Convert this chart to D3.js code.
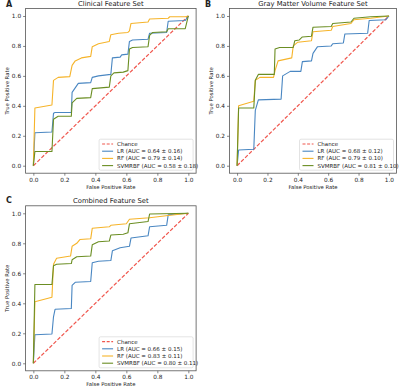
<!DOCTYPE html>
<html>
<head>
<meta charset="utf-8">
<script src="https://cdn.jsdelivr.net/npm/d3@7"></script>
<style>
  body { margin: 0; background: #fff; }
  text { font-family: "DejaVu Sans", sans-serif; fill: #222; }
</style>
</head>
<body>
<svg width="400" height="387"></svg>
<script>
// Mean ROC curves, [fpr, tpr]
const clinicalLR = [[0,0],[0.01,0.22],[0.12,0.225],[0.13,0.35],[0.14,0.355],[0.245,0.355],[0.25,0.49],[0.27,0.52],[0.29,0.55],[0.37,0.555],[0.38,0.59],[0.42,0.60],[0.50,0.61],[0.51,0.72],[0.56,0.725],[0.57,0.74],[0.61,0.745],[0.62,0.83],[0.64,0.84],[0.74,0.845],[0.75,0.885],[0.86,0.89],[0.87,0.965],[0.98,0.97],[1,1]];
const clinicalRF = [[0,0],[0.01,0.385],[0.12,0.405],[0.13,0.57],[0.16,0.59],[0.235,0.595],[0.25,0.67],[0.27,0.70],[0.31,0.72],[0.37,0.73],[0.38,0.795],[0.42,0.815],[0.49,0.83],[0.50,0.875],[0.55,0.885],[0.61,0.89],[0.62,0.9],[0.63,0.95],[0.74,0.96],[0.75,0.98],[0.87,0.985],[0.88,0.995],[0.98,0.995],[1,1]];
const clinicalSVM = [[0,0],[0.01,0.095],[0.12,0.095],[0.13,0.31],[0.16,0.33],[0.245,0.33],[0.25,0.42],[0.28,0.45],[0.37,0.455],[0.38,0.515],[0.49,0.525],[0.50,0.6],[0.52,0.62],[0.58,0.625],[0.61,0.635],[0.62,0.78],[0.64,0.79],[0.74,0.795],[0.75,0.87],[0.77,0.89],[0.86,0.895],[0.87,0.915],[0.98,0.915],[1,1]];

const grayLR = [[0,0],[0.01,0.105],[0.11,0.11],[0.12,0.37],[0.14,0.44],[0.29,0.445],[0.30,0.60],[0.35,0.63],[0.42,0.63],[0.43,0.695],[0.49,0.70],[0.50,0.75],[0.53,0.795],[0.62,0.80],[0.63,0.815],[0.70,0.82],[0.71,0.88],[0.86,0.885],[0.87,0.97],[0.98,0.975],[1,1]];
const grayRF = [[0,0],[0.01,0.40],[0.11,0.43],[0.12,0.57],[0.15,0.59],[0.24,0.59],[0.25,0.635],[0.27,0.70],[0.36,0.72],[0.37,0.80],[0.40,0.825],[0.49,0.835],[0.50,0.895],[0.62,0.905],[0.63,0.93],[0.75,0.95],[0.77,0.975],[0.88,0.985],[1,1]];
const graySVM = [[0,0],[0.01,0.385],[0.11,0.385],[0.12,0.57],[0.14,0.61],[0.245,0.61],[0.25,0.78],[0.28,0.79],[0.37,0.79],[0.38,0.835],[0.41,0.84],[0.43,0.86],[0.49,0.865],[0.50,0.925],[0.62,0.93],[0.63,0.95],[0.75,0.96],[0.77,0.985],[0.88,0.995],[1,1]];

const combLR = [[0,0],[0.01,0.19],[0.12,0.195],[0.13,0.31],[0.14,0.36],[0.245,0.365],[0.25,0.52],[0.27,0.54],[0.37,0.545],[0.38,0.67],[0.42,0.68],[0.50,0.685],[0.51,0.75],[0.56,0.77],[0.62,0.78],[0.63,0.835],[0.74,0.85],[0.75,0.91],[0.86,0.92],[0.87,0.99],[1,1]];
const combRF = [[0,0],[0.01,0.41],[0.12,0.44],[0.13,0.66],[0.15,0.70],[0.24,0.715],[0.25,0.78],[0.28,0.80],[0.30,0.825],[0.37,0.83],[0.38,0.90],[0.49,0.91],[0.50,0.92],[0.60,0.93],[0.62,0.96],[0.75,0.97],[0.87,0.985],[1,1]];
const combSVM = [[0,0],[0.01,0.525],[0.12,0.525],[0.13,0.65],[0.15,0.66],[0.245,0.665],[0.25,0.69],[0.28,0.71],[0.37,0.715],[0.38,0.79],[0.42,0.81],[0.49,0.815],[0.50,0.855],[0.58,0.86],[0.61,0.87],[0.62,0.93],[0.74,0.945],[0.75,0.995],[1,1]];

const chance = [[0,0],[1,1]];
const ticks = [0, 0.2, 0.4, 0.6, 0.8, 1.0];
const modelNames = ["LR", "RF", "SVMRBF"];
const colors = {LR: "#4a87c2", RF: "#f6b42a", SVMRBF: "#6b8e23", Chance: "#f0564d"};

const panels = [
  {letter: "A", title: "Clinical Feature Set", left: 25.6, top: 8.5, w: 170.5, h: 164.7,
   curves: [clinicalLR, clinicalRF, clinicalSVM], auc: ["0.64 ± 0.16", "0.79 ± 0.14", "0.58 ± 0.18"], lx: 6, ly: 4},
  {letter: "B", title: "Gray Matter Volume Feature Set", left: 229.5, top: 8.5, w: 167, h: 164.7,
   curves: [grayLR, grayRF, graySVM], auc: ["0.68 ± 0.12", "0.79 ± 0.10", "0.81 ± 0.10"], lx: 205, ly: 4},
  {letter: "C", title: "Combined Feature Set", left: 25.6, top: 205.8, w: 170.5, h: 165,
   curves: [combLR, combRF, combSVM], auc: ["0.66 ± 0.15", "0.83 ± 0.11", "0.80 ± 0.11"], lx: 6, ly: 200}
];

const svg = d3.select("svg");

panels.forEach(p => {
  const g = svg.append("g").attr("transform", `translate(${p.left},${p.top})`);
  const x = d3.scaleLinear().domain([-0.05, 1.05]).range([0, p.w]);
  const y = d3.scaleLinear().domain([-0.05, 1.05]).range([p.h, 0]);

  const line = d3.line().x(d => x(d[0])).y(d => y(d[1]));

  // chance diagonal
  g.append("path").datum(chance).attr("d", line)
    .attr("fill", "none").attr("stroke", colors.Chance)
    .attr("stroke-width", 1.2).attr("stroke-dasharray", "3.8,1.8");

  p.curves.forEach((c, i) => {
    g.append("path").datum(c).attr("d", line)
      .attr("fill", "none").attr("stroke", colors[modelNames[i]])
      .attr("stroke-width", 1.1).attr("stroke-linejoin", "round");
  });

  // axes
  const xAxis = g.append("g").attr("transform", `translate(0,${p.h})`)
    .call(d3.axisBottom(x).tickValues(ticks).tickFormat(d3.format(".1f")).tickSize(2.5).tickPadding(2));
  const yAxis = g.append("g")
    .call(d3.axisLeft(y).tickValues(ticks).tickFormat(d3.format(".1f")).tickSize(2.5).tickPadding(2));
  [xAxis, yAxis].forEach(a => {
    a.select(".domain").remove();
    a.selectAll("line").attr("stroke", "#333").attr("stroke-width", 0.6);
    a.selectAll("text").style("font-size", "5.8px").style("font-family", "DejaVu Sans").attr("fill", "#222");
  });

  g.append("rect").attr("width", p.w).attr("height", p.h)
    .attr("fill", "none").attr("stroke", "#555").attr("stroke-width", 0.8);

  g.append("text").attr("x", p.w / 2).attr("y", -3).attr("text-anchor", "middle")
    .style("font-size", "6.8px").text(p.title);
  g.append("text").attr("x", p.w / 2).attr("y", p.h + 15.5).attr("text-anchor", "middle")
    .style("font-size", "5.3px").text("False Positive Rate");
  g.append("text").attr("transform", `translate(-17,${p.h / 2}) rotate(-90)`)
    .attr("text-anchor", "middle").style("font-size", "5.3px").text("True Positive Rate");

  svg.append("text").attr("x", p.lx).attr("y", p.ly + 3).style("font-size", "8px")
    .style("font-weight", "bold").text(p.letter);

  // legend
  const entries = [{name: "Chance", color: colors.Chance, dash: true}]
    .concat(modelNames.map((m, i) => ({name: `${m} (AUC = ${p.auc[i]})`, color: colors[m]})));
  const lw = 94, lh = 31;
  const leg = g.append("g").attr("transform", `translate(${p.w - lw - 3},${p.h - lh - 3})`);
  leg.append("rect").attr("width", lw).attr("height", lh).attr("rx", 1.5)
    .attr("fill", "#fff").attr("fill-opacity", 0.85).attr("stroke", "#d0d0d0").attr("stroke-width", 0.6);
  entries.forEach((e, i) => {
    const yy = 4.8 + i * 7.2;
    leg.append("line").attr("x1", 3).attr("x2", 14).attr("y1", yy).attr("y2", yy)
      .attr("stroke", e.color).attr("stroke-width", 1.1)
      .attr("stroke-dasharray", e.dash ? "3,1.6" : null);
    leg.append("text").attr("x", 18).attr("y", yy + 2).style("font-size", "5.5px").text(e.name);
  });
});
</script>
</body>
</html>
